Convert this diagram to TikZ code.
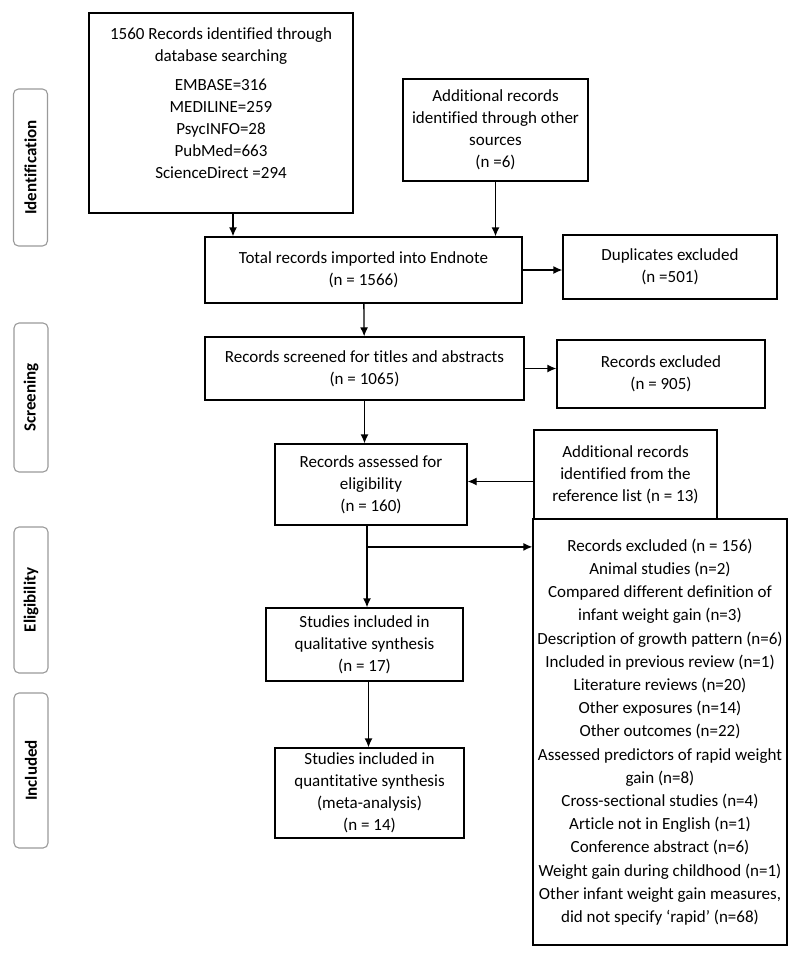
\documentclass[tikz,border=0pt]{standalone}
\usepackage{fontspec}
\setmainfont[Ligatures=NoCommon]{Carlito}
\usetikzlibrary{arrows.meta}
\definecolor{phaseGray}{HTML}{9A9A9A}
\tikzset{font=\fontsize{17}{22}\selectfont}
\tikzstyle{box} = [rectangle, draw=black, line width=1.3pt, text centered,%
align=center, inner sep=2pt]
\tikzstyle{phase} = [rectangle, rounded corners=5pt, draw=phaseGray, line width=1.1pt,%
minimum height=34pt, rotate=90, font=\fontsize{17}{20}\selectfont\bfseries]
\tikzstyle{arrow} = [line width=1.3pt,-{Latex[length=9pt,width=8pt]}]

\begin{document}
\begin{tikzpicture}[x=1pt,y=-1pt]
    \useasboundingbox (0,0) rectangle (800,959);

    % phases
    \node (idPhase) [phase, minimum width=157pt] at (30.5,167.5) {Identification};
    \node (scPhase) [phase, minimum width=149pt] at (31,397.5) {Screening};
    \node (elPhase) [phase, minimum width=146pt] at (31,600) {Eligibility};
    \node (inPhase) [phase, minimum width=155pt] at (31,770.5) {Included};

    \node (db) [box, minimum width=264pt, minimum height=200pt] at (221,113)%
      {1560 Records identified through\\database searching\\[7pt]EMBASE=316\\%
      MEDILINE=259\\PsycINFO=28\\PubMed=663\\ScienceDirect =294\\[-2pt]\mbox{}};
    \node (other) [box, minimum width=185pt, minimum height=102pt] at (495.5,130)%
      {Additional records\\identified through other\\sources\\(n =6)};
    \node (total) [box, minimum width=317pt, minimum height=66pt] at (363.5,270)%
      {Total records imported into Endnote\\(n = 1566)};
    \node (dup) [box, minimum width=214pt, minimum height=64pt] at (670,267)%
      {Duplicates excluded\\(n =501)};
    \node (screen) [box, minimum width=319pt, minimum height=63pt] at (364.5,368.5)%
      {Records screened for titles and abstracts\\(n = 1065)};
    \node (excl) [box, minimum width=208pt, minimum height=68pt] at (661,374)%
      {Records excluded\\(n = 905)};
    \node (assess) [box, minimum width=192pt, minimum height=81pt] at (371,484.5)%
      {Records assessed for\\eligibility\\(n = 160)};
    \node (refList) [box, minimum width=183pt, minimum height=89pt] at (625.5,474.5)%
      {Additional records\\identified from the\\reference list (n = 13)};
    \node (fullExcl) [box, minimum width=254pt, minimum height=426pt,%
      font=\fontsize{17}{23.2}\selectfont] at (660,732)%
      {Records excluded (n = 156)\\Animal studies (n=2)\\%
      Compared different definition of\\infant weight gain (n=3)\\%
      Description of growth pattern (n=6)\\Included in previous review (n=1)\\%
      Literature reviews (n=20)\\Other exposures (n=14)\\Other outcomes (n=22)\\%
      Assessed predictors of rapid weight\\gain (n=8)\\%
      Cross-sectional studies (n=4)\\Article not in English (n=1)\\%
      Conference abstract (n=6)\\Weight gain during childhood (n=1)\\%
      Other infant weight gain measures,\\did not specify `rapid' (n=68)};
    \node (qual) [box, minimum width=197pt, minimum height=73pt] at (364.5,644.5)%
      {Studies included in\\qualitative synthesis\\(n = 17)};
    \node (quant) [box, minimum width=189pt, minimum height=90pt] at (369.5,793)%
      {Studies included in\\quantitative synthesis\\(meta-analysis)\\(n = 14)};

    \draw [arrow] ([xshift=12pt]db.south) -- ([xshift=12pt]db.south |- total.north);
    \draw [arrow] (other) -- (other.south |- total.north);
    \draw [arrow] (total) -- (total.east -| dup.west);
    \draw [arrow] (total) -- (screen);
    \draw [arrow] (screen) -- (screen.east -| excl.west);
    \draw [arrow] (screen.south) -- (screen.south |- assess.north);
    \draw [arrow] ([yshift=-7pt]refList.west) -- ([yshift=-7pt]refList.west -| assess.east);
    \draw [arrow] ([xshift=-4pt]assess.south) -- coordinate[pos=0.26] (toExcl)%
      ([xshift=-4pt]assess.south |- qual.north);
    \draw [arrow] (toExcl) -- (toExcl -| fullExcl.west);
    \draw [arrow] ([xshift=4pt]qual.south) -- ([xshift=4pt]qual.south |- quant.north);
  \end{tikzpicture}
\end{document}
